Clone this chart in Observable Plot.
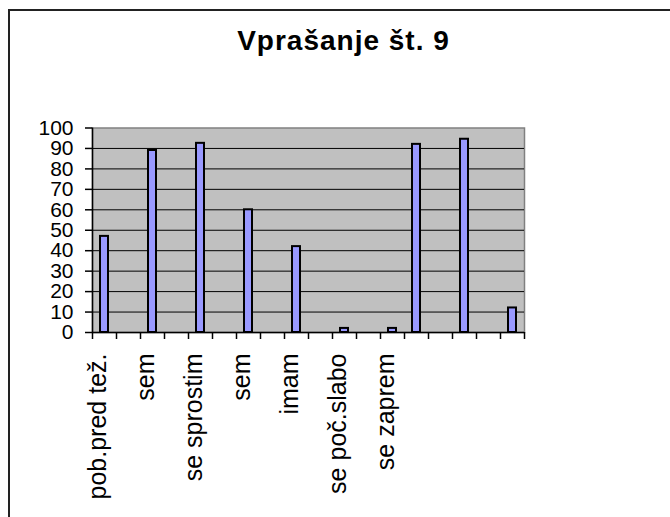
<!DOCTYPE html>
<html>
<head>
<meta charset="utf-8">
<script src="https://cdn.jsdelivr.net/npm/d3@7"></script>
<script src="https://cdn.jsdelivr.net/npm/@observablehq/plot@0.6"></script>
<style>
  html, body { margin: 0; padding: 0; background: #fff; overflow: hidden; }
  #wrap { position: relative; width: 670px; height: 517px; font-family: "Liberation Sans", Arial, sans-serif; }
  #frame { position: absolute; left: 8px; top: 9px; width: 700px; height: 560px; border-top: 2px solid #222; border-left: 2px solid #222; box-sizing: border-box; }
  #title { position: absolute; left: 0; width: 687px; top: 27px; text-align: center; font-size: 28px; line-height: 28px; font-weight: bold; letter-spacing: 1px; color: #000; }
  #chart { position: absolute; left: 0; top: 0; }
</style>
</head>
<body>
<div id="wrap">
  <div id="frame"></div>
  <div id="chart"></div>
  <div id="title">Vprašanje št. 9</div>
</div>
<script>
// Categories (18 slots; labels shown only on every other slot)
const labels = ["pob.pred tež.", "", "sem", "", "se sprostim", "", "sem", "", "imam", "", "se poč.slabo", "", "se zaprem", "", "", "", "", ""];
// Values (null = no bar)
const values = [47, null, 89, null, 92.5, null, 60, null, 42, null, 2, null, 2, 92, null, 94.5, null, 12];
const yTicks = [0, 10, 20, 30, 40, 50, 60, 70, 80, 90, 100];

const data = labels.map((label, i) => ({i, label, value: values[i]}));
const bars = data.filter(d => d.value != null);
const labeled = data.filter(d => d.label !== "");
const n = labels.length;

const plot = Plot.plot({
  width: 670,
  height: 517,
  marginLeft: 92,
  marginRight: 146,
  marginTop: 127.5,
  marginBottom: 185,
  style: {fontFamily: "Liberation Sans, Arial, sans-serif", color: "#000", background: "transparent"},
  x: {domain: [0, n], axis: null},
  y: {domain: [0, 100], axis: null},
  marks: [
    Plot.frame({fill: "#c0c0c0", stroke: "#808080", strokeWidth: 1.5}),
    Plot.ruleY(yTicks.filter(t => t > 0 && t < 100), {stroke: "#000", strokeWidth: 1}),
    Plot.rectY(bars, {x1: d => d.i, x2: d => d.i + 1, y: "value", insetLeft: 8, insetRight: 8, fill: "#9999ff", stroke: "#000", strokeWidth: 2}),
    Plot.ruleX([0], {stroke: "#000", strokeWidth: 1.5}),
    Plot.ruleY([0], {stroke: "#000", strokeWidth: 1.5}),
    Plot.axisY({ticks: yTicks, label: null, tickSize: 7, tickPadding: 12, fontSize: 21, tickFormat: d => String(d), stroke: "#000", strokeWidth: 1.5, fill: "#000"}),
    Plot.axisX({ticks: d3.range(0, n + 1), label: null, tickSize: 7, tickFormat: () => "", stroke: "#000", strokeWidth: 1.5}),
    Plot.text(labeled, {x: d => d.i + 0.5, text: "label", frameAnchor: "bottom", rotate: -90, textAnchor: "end", dy: 21, dx: 1, fontSize: 25, fill: "#000"})
  ]
});
document.getElementById("chart").appendChild(plot);
</script>
</body>
</html>
